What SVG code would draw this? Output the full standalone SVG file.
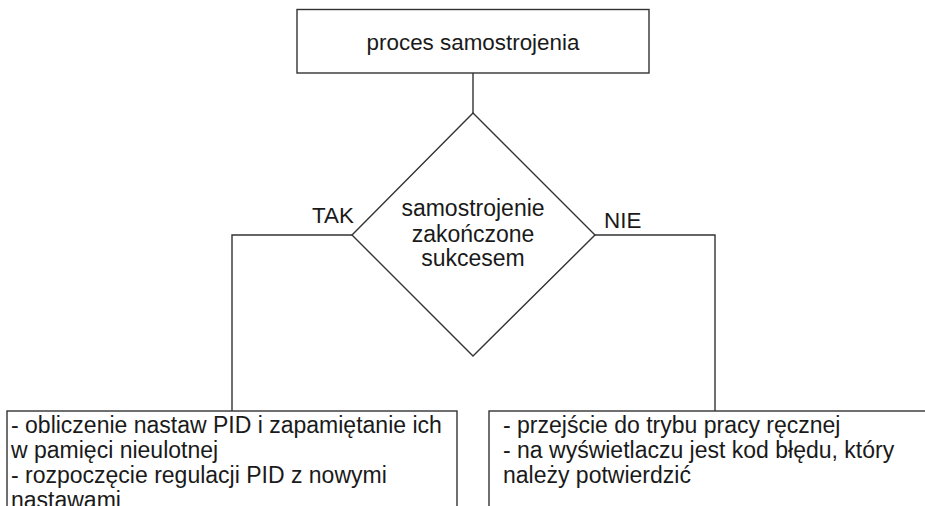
<svg xmlns="http://www.w3.org/2000/svg" width="925" height="506" viewBox="0 0 925 506">
<style>
.shape{fill:#fff;stroke:#333;stroke-width:1.4}
.conn{fill:none;stroke:#333;stroke-width:1.4}
text{font-family:"Liberation Sans",Arial,sans-serif;fill:#1a1a1a}
.t22{font-size:22.4px}
.t23{font-size:23px}
</style>
<rect width="925" height="506" fill="#fff"/>
<g id="connectors">
<line class="conn" x1="473" y1="73" x2="473" y2="113"/>
<polyline class="conn" points="352,235 232,235 232,411"/>
<polyline class="conn" points="595,235 715,235 715,411"/>
</g>
<g id="start">
<rect class="shape" x="297" y="9.5" width="352" height="63.5"/>
<text class="t22" x="473" y="50" text-anchor="middle">proces samostrojenia</text>
</g>
<g id="decision">
<polygon class="shape" points="473,113 595,235 473,356 352,235"/>
<text class="t23" x="473" y="216" text-anchor="middle">samostrojenie</text>
<text class="t23" x="473" y="242" text-anchor="middle">zakończone</text>
<text class="t23" x="473" y="266" text-anchor="middle">sukcesem</text>
</g>
<g id="labels">
<text class="t22" x="312" y="223">TAK</text>
<text class="t22" x="604" y="228">NIE</text>
</g>
<g id="yes-box">
<rect class="shape" x="7" y="411" width="450" height="110"/>
<text class="t23" x="11" y="433">- obliczenie nastaw PID i zapamiętanie ich</text>
<text class="t23" x="11" y="458">w pamięci nieulotnej</text>
<text class="t23" x="11" y="483">- rozpoczęcie regulacji PID z nowymi</text>
<text class="t23" x="11" y="508">nastawami</text>
</g>
<g id="no-box">
<rect class="shape" x="489" y="411" width="450" height="110"/>
<text class="t23" x="503" y="433">- przejście do trybu pracy ręcznej</text>
<text class="t23" x="503" y="458">- na wyświetlaczu jest kod błędu, który</text>
<text class="t23" x="503" y="483">należy potwierdzić</text>
</g>
</svg>
